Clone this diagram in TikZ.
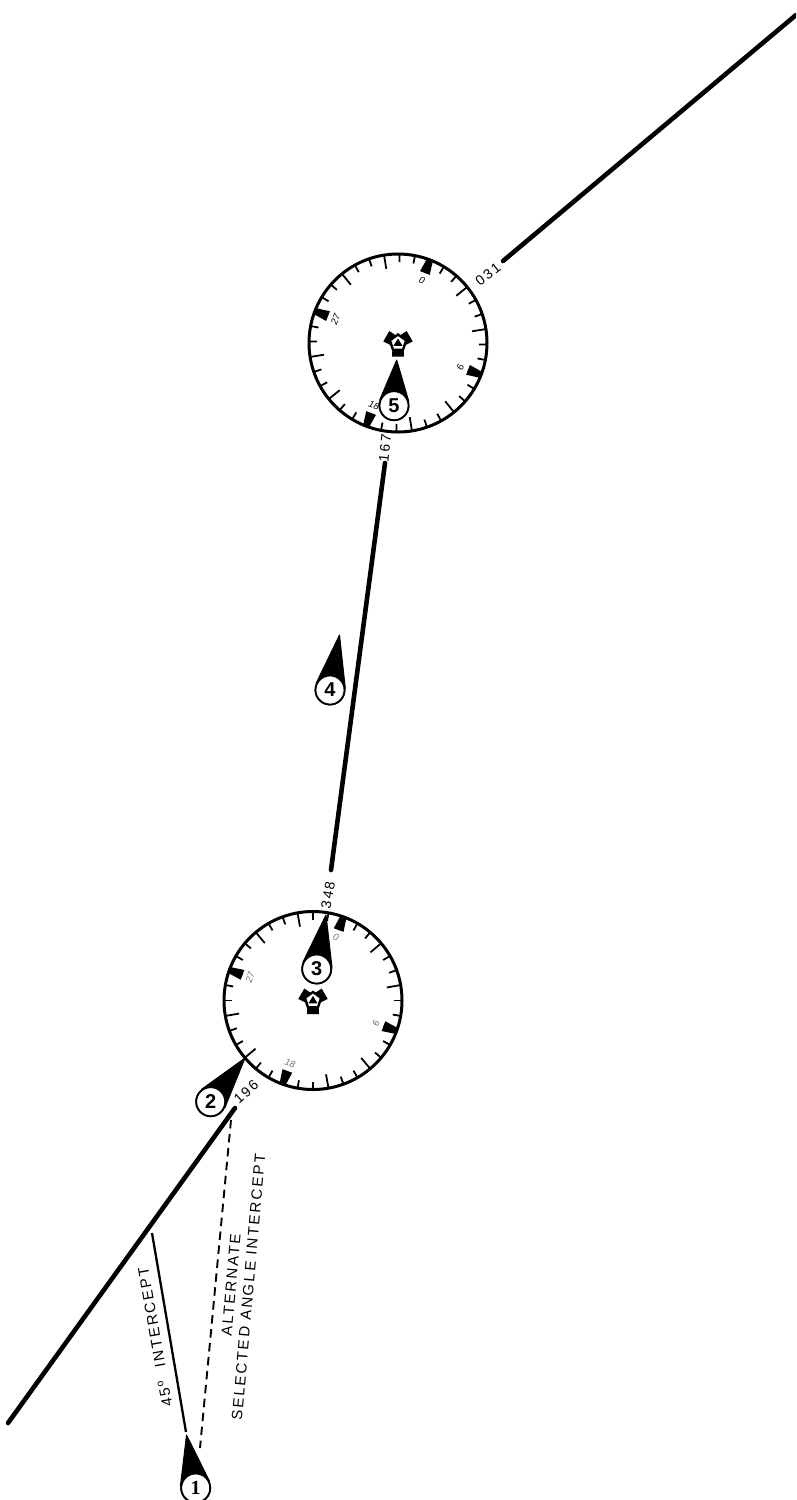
\documentclass[tikz,border=0pt]{standalone}
\usepackage{fontspec}
\setmainfont{Liberation Sans}
\newfontfamily\lblfont[LetterSpace=14]{Liberation Sans}
\newfontfamily\numfont[LetterSpace=14]{Liberation Sans}
\newfontfamily\serfont{Liberation Serif}
\usetikzlibrary{calc}
\tikzset{
  track/.style={line width=4.6pt,line cap=round},
  thinline/.style={line width=2.3pt},
  altline/.style={line width=1.9pt,dash pattern=on 8.5pt off 5.5pt},
  lbl/.style={font=\lblfont\fontsize{15}{17}\selectfont,inner sep=0pt},
  num/.style={font=\numfont\fontsize{14}{16}\selectfont,inner sep=0pt},
  acft/.style={circle,draw,line width=1.8pt,fill=white,minimum size=29pt,inner sep=0pt,font=\bfseries\fontsize{20}{20}\selectfont},
  pics/compass/.style args={#1/#2}{code={
    \draw[line width=3pt] (0,0) circle (89);
    \foreach \k in {0,...,35}{
      \pgfmathsetmacro{\brg}{#1+10*\k}
      \pgfmathtruncatemacro{\m}{mod(\k,3)}
      \pgfmathsetmacro{\ln}{\m==0 ? 14 : 8}
      \draw[line width=1.8pt,rotate=-\brg] (0,-89) -- (0,-89+\ln);
    }
    \foreach \a/\t/\r in {0/0/0,90/9/90,180/18/0,270/27/270}{
      \fill[rotate=-#1-\a] (-3,-90) -- (3,-90) -- (5.2,-75) -- (-5.2,-75) -- cycle;
      \node[rotate=-#1-\r,inner sep=0pt,text=#2,font=\itshape\fontsize{9.5}{10}\selectfont] at ({67*sin(#1+\a)},{-67*cos(#1+\a)}) {\t};
    }
    % centre symbol
    \foreach \r in {0,120,240}{
      \fill[rotate=\r] (-5.5,4) -- (5.5,4) -- (6,13.5) -- (-6,13.5) -- cycle;
    }
    \draw[line width=2.4pt,fill=white,line join=miter] (-90:8.5) -- (-18:8.5) -- (54:8.5) -- (126:8.5) -- (198:8.5) -- cycle;
    \fill (0,-4.5) -- (4.5,2.8) -- (-4.5,2.8) -- cycle;
  }}
}
\begin{document}
\begin{tikzpicture}[x=1pt,y=-1pt]
\useasboundingbox (0,0) rectangle (796,1500);
\clip (0,0) rectangle (796,1500);

% track ends
\coordinate (t1a) at (796,15);
\coordinate (t1b) at (503,261);
\coordinate (t2a) at (385,463);
\coordinate (t2b) at (331,870);
\coordinate (t3a) at (235,1108);
\coordinate (t3b) at (8,1423);
\coordinate (th1) at (152,1233);
\coordinate (th2) at (186,1432);
\coordinate (da1) at (231,1120);
\coordinate (da2) at (200,1448);

\draw[track] (t1a) -- (t1b);
\draw[track] (t2a) -- (t2b);
\draw[track] (t3a) -- (t3b);
\draw[thinline] (th1) -- (th2);
\draw[altline] (da1) -- (da2);

% compasses
\pic (cA) at (398,343) {compass=21/black};
\pic (cB) at (313,1000.5) {compass=20/black!55};

% aircraft symbols
\foreach \n/\ax/\ay/\cx/\cy/\t in {
  a1/186.5/1435/195.7/1488/{\serfont 1},
  a2/245/1058/210.7/1101.7/2,
  a3/326/915/316.7/969/3,
  a4/339.5/635/330/690/4,
  a5/396.7/360/394/405.7/5}{
  \coordinate (\n apex) at (\ax,\ay);
  \node[acft] (\n) at (\cx,\cy) {};
  \fill[line join=round,draw,line width=1pt] (\n apex) -- (tangent cs:node=\n,point={(\n apex)},solution=1) -- (\n.center) -- (tangent cs:node=\n,point={(\n apex)},solution=2) -- cycle;
  \node[acft] (\n) at (\cx,\cy) {\t};
}

% labels
\node[num,rotate=38] (l031) at (488,274) {031};
\node[num,rotate=84] (l167) at (385,448) {167};
\node[num,rotate=80] (l348) at (328,895) {348};
\node[num,rotate=42] (l196) at (246,1092) {196};
\node[lbl,rotate=100] (lint) at (155,1337) {45\textsuperscript{\,o}\ \ INTERCEPT};
\node[lbl,rotate=85] (lalt) at (231,1285) {ALTERNATE};
\node[lbl,rotate=85] (lsel) at (248.5,1287) {SELECTED\ ANGLE\ INTERCEPT};
\end{tikzpicture}
\end{document}
